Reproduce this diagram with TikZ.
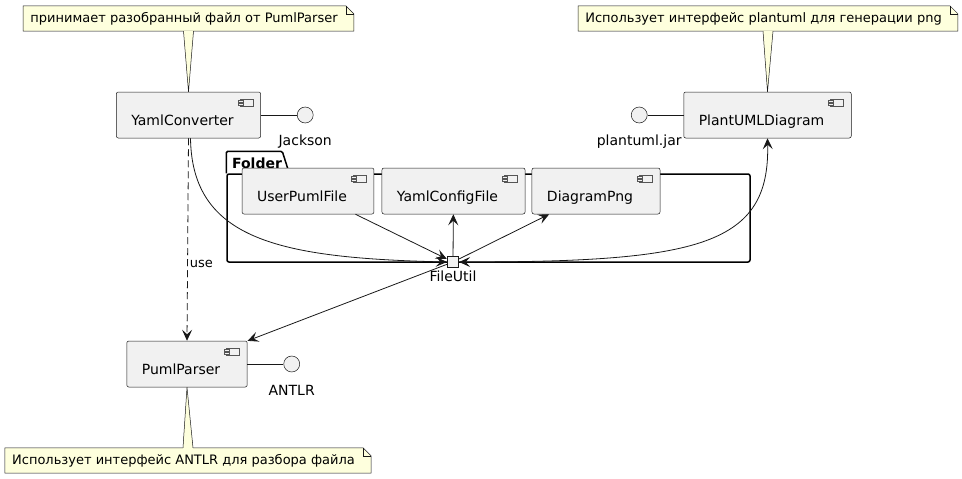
\documentclass[tikz,border=0pt]{standalone}
\usepackage{fontspec}
\setmainfont{DejaVu Sans}
\usetikzlibrary{positioning}
\usetikzlibrary{arrows.meta}

\definecolor{compfill}{HTML}{F1F1F1}
\definecolor{notefill}{HTML}{FEFFDD}
\definecolor{edgecol}{HTML}{181818}
\definecolor{iconcol}{HTML}{555555}

% component icon in the top right corner of a component
\newcommand{\compicon}[1]{%
  \draw[iconcol, line width=0.4pt, fill=compfill, shift={(#1.north east)}]
    (-21,7) rectangle (-8,14);
  \draw[iconcol, line width=0.4pt, fill=compfill, shift={(#1.north east)}]
    (-23,8.5) rectangle (-18,10) (-23,11.5) rectangle (-18,13);}
% outline of a note with its folded corner
\newcommand{\notefold}[1]{%
  \fill[white] ([xshift=-8pt]#1.north east) -- (#1.north east)
    -- ([yshift=-8pt]#1.north east) -- cycle;
  \draw[notebd] (#1.south west) -- (#1.north west) -- ([xshift=-8pt]#1.north east)
    -- ([yshift=-8pt]#1.north east) -- (#1.south east) -- cycle;
  \draw[notebd] ([xshift=-8pt]#1.north east) |- ([yshift=-8pt]#1.north east);}
% wedge between a note and its component
\newcommand{\notelink}[2]{%
  \fill[notefill] ([xshift=-5pt]#1) -- (#2) -- ([xshift=5pt]#1) -- cycle;
  \fill[notefill] ([xshift=-4.6pt,yshift=-0.7pt]#1) rectangle ([xshift=4.6pt,yshift=0.7pt]#1);
  \draw[notebd] ([xshift=-5pt]#1) -- (#2) -- ([xshift=5pt]#1);}

\begin{document}
\begin{tikzpicture}[
    x=1pt, y=-1pt,
    comp/.style={
        draw=edgecol, line width=0.5pt, fill=compfill,
        rounded corners=2pt,
        font=\fontsize{14}{16}\selectfont,
        inner xsep=15pt, inner ysep=9pt,
        text height=24pt, text depth=4pt,
        execute at end node={\hspace{12pt}}
    },
    iface/.style={
        circle, draw=edgecol, line width=0.5pt, fill=compfill,
        minimum size=16pt, inner sep=0pt
    },
    ifacelbl/.style={
        font=\fontsize{14}{16}\selectfont, inner sep=1pt
    },
    notebox/.style={
        fill=notefill, font=\fontsize{13}{15}\selectfont,
        minimum height=25pt, inner xsep=7pt, inner ysep=0pt,
        execute at end node={\hspace{9pt}}
    },
    notebd/.style={draw=edgecol, line width=0.5pt},
    pkg/.style={draw=black, line width=1.5pt, rounded corners=2pt},
    port/.style={
        draw=edgecol, line width=1.3pt, fill=compfill,
        minimum size=11pt, inner sep=0pt
    },
    link/.style={draw=edgecol, line width=0.8pt},
    arrow/.style={
        draw=edgecol, line width=0.8pt,
        -{Stealth[length=11pt, width=10pt, inset=4.5pt]}
    },
    twoway/.style={
        draw=edgecol, line width=0.8pt,
        {Stealth[length=11pt, width=10pt, inset=4.5pt]}-{Stealth[length=11pt, width=10pt, inset=4.5pt]}
    }
]
    \useasboundingbox (0,0) rectangle (962,479);

    % --- Folder package ---
    \node[pkg, minimum width=523pt, minimum height=88pt] (folder) at (488.5,218) {};
    \draw[pkg, rounded corners=1.5pt] (folder.north west) -- ++(0,-22) -- ++(56,0) -- ([xshift=63pt]folder.north west);
    \node[font=\fontsize{14}{16}\selectfont\bfseries, inner sep=0pt] (folderlbl) at (257,163) {Folder};

    % --- Components ---
    \node[comp] (conv)    at (188.5,115) {YamlConverter};
    \node[comp] (plant)   at (767.5,115) {PlantUMLDiagram};
    \node[comp] (user)    at (308,191)   {UserPumlFile};
    \node[comp] (yamlcfg) at (453.5,191) {YamlConfigFile};
    \node[comp] (png)     at (596,191)   {DiagramPng};
    \node[comp] (parser)  at (187,364)   {PumlParser};
    \compicon{conv}
    \compicon{plant}
    \compicon{user}
    \compicon{yamlcfg}
    \compicon{png}
    \compicon{parser}

    % --- Interfaces ---
    \node[iface, right=36pt of conv]   (jackson) {};
    \node[iface, left=36pt of plant]   (jar)     {};
    \node[iface, right=36pt of parser] (antlr)   {};
    \node[ifacelbl, below=10pt of jackson] (jacksonlbl) {Jackson};
    \node[ifacelbl, below=10pt of jar]     (jarlbl)     {plantuml.jar};
    \node[ifacelbl, below=12pt of antlr]   (antlrlbl)   {ANTLR};
    \draw[link] (conv) -- (jackson);
    \draw[link] (plant) -- (jar);
    \draw[link] (parser) -- (antlr);

    % --- Notes ---
    \node[notebox] (note1) at (188.5,18.5) {принимает разобранный файл от PumlParser};
    \node[notebox] (note2) at (768,18.5)   {Использует интерфейс plantuml для генерации png};
    \node[notebox] (note3) at (188,460.5)  {Использует интерфейс ANTLR для разбора файла};
    \notefold{note1}
    \notefold{note2}
    \notefold{note3}
    \notelink{note1.south}{conv.north}
    \notelink{note2.south}{plant.north}
    \notelink{note3.north}{parser.south}

    % --- FileUtil port ---
    \node[port] (fileutil) at (453,262) {};
    \node[ifacelbl, below=2pt of fileutil] (fileutillbl) {FileUtil};

    % --- Connectors ---
    \draw[arrow, dash pattern=on 7pt off 4pt] (conv.south) -- node[pos=0.62, right, inner sep=2pt, font=\fontsize{13}{15}\selectfont] {use} (parser.north);
    \draw[arrow] ([xshift=2pt]conv.south) .. controls (192,240) and (280,258) .. (fileutil.west);
    \draw[arrow] (user) -- (fileutil);
    \draw[arrow] (fileutil) -- (yamlcfg);
    \draw[arrow] (fileutil) -- (png);
    \draw[twoway] (fileutil.east) .. controls (700,262) and (770,245) .. (plant.south);
    \draw[arrow] (fileutil) -- (parser);
\end{tikzpicture}
\end{document}
